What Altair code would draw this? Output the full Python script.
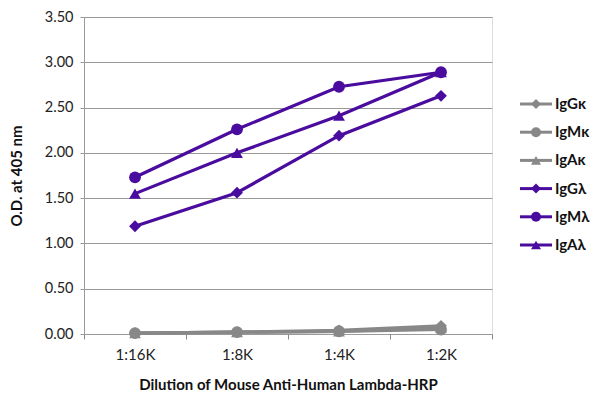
import altair as alt
import pandas as pd

dilutions = ["1:16K", "1:8K", "1:4K", "1:2K"]
series = ["IgGκ", "IgMκ", "IgAκ", "IgGλ", "IgMλ", "IgAλ"]
igg_k = [0.01, 0.02, 0.04, 0.09]
igm_k = [0.01, 0.02, 0.03, 0.05]
iga_k = [0.01, 0.02, 0.03, 0.07]
igg_l = [1.19, 1.56, 2.19, 2.63]
igm_l = [1.73, 2.26, 2.73, 2.89]
iga_l = [1.55, 2.00, 2.41, 2.89]
colors = ["#888888", "#888888", "#888888", "#4a0c9e", "#4a0c9e", "#4a0c9e"]
shapes = ["diamond", "circle", "triangle-up", "diamond", "circle", "triangle-up"]

vals = [igg_k, igm_k, iga_k, igg_l, igm_l, iga_l]
rows = []
for s, v in zip(series, vals):
    for d, y in zip(dilutions, v):
        rows.append({"series": s, "dilution": d, "od": y})
df = pd.DataFrame(rows)
leg = pd.DataFrame({"series": series})

FONT = "Lato"
color_scale = alt.Scale(domain=series, range=colors)
shape_scale = alt.Scale(domain=series, range=shapes)

x = alt.X("dilution:N", sort=dilutions,
          scale=alt.Scale(paddingInner=0, paddingOuter=0),
          axis=alt.Axis(title="Dilution of Mouse Anti-Human Lambda-HRP", labelAngle=0,
                        tickBand="extent", domain=False, ticks=True, tickColor="#888",
                        tickSize=5, labelFontSize=15, labelFont=FONT, labelColor="#222",
                        labelPadding=8, titleFont=FONT, titleFontSize=15, titleFontWeight="bold",
                        titleColor="#111", titlePadding=15, grid=False))
y = alt.Y("od:Q", scale=alt.Scale(domain=[0, 3.5], nice=False),
          axis=alt.Axis(title="O.D. at 405 nm", values=[0, 0.5, 1, 1.5, 2, 2.5, 3, 3.5],
                        format=".2f", grid=True, gridColor="#999", gridWidth=1,
                        domain=True, domainColor="#999", tickColor="#999", tickSize=4,
                        labelFontSize=14.5, labelFont=FONT, labelColor="#222", labelPadding=7,
                        titleFont=FONT, titleFontSize=15, titleFontWeight="bold",
                        titleColor="#111", titlePadding=20))

base = alt.Chart(df)
lines = base.mark_line(strokeWidth=3.2).encode(
    x=x, y=y,
    color=alt.Color("series:N", scale=color_scale, legend=None),
    detail="series:N",
)
points = base.mark_point(filled=True, size=140, opacity=1).encode(
    x=x, y=y,
    color=alt.Color("series:N", scale=color_scale, legend=None),
    shape=alt.Shape("series:N", scale=shape_scale, legend=None),
)
main = alt.layer(lines, points)

ly = alt.Y("series:N", sort=series,
           scale=alt.Scale(type="point", domain=series, range=[87, 228], padding=0), axis=None)
leg_line = alt.Chart(leg).mark_rule(strokeWidth=3).encode(
    x=alt.value(436), x2=alt.value(468), y=ly,
    color=alt.Color("series:N", scale=color_scale, legend=None))
leg_pt = alt.Chart(leg).mark_point(filled=True, size=100, opacity=1).encode(
    x=alt.value(452), y=ly,
    color=alt.Color("series:N", scale=color_scale, legend=None),
    shape=alt.Shape("series:N", scale=shape_scale, legend=None))
leg_txt = alt.Chart(leg).mark_text(align="left", baseline="middle", font=FONT,
                                   fontSize=15, fontWeight="bold", color="#111").encode(
    x=alt.value(471), y=ly, text="series:N")

legend = alt.layer(leg_line, leg_pt, leg_txt)

chart = alt.layer(main, legend).resolve_scale(y="independent").properties(
    width=408, height=317,
    autosize=alt.AutoSizeParams(type="none"),
    padding={"left": 76, "top": 9, "right": 100, "bottom": 62},
).configure_view(stroke=None).configure(background="white")

chart.save("out.html", embed_options={"renderer": "svg", "actions": False})
